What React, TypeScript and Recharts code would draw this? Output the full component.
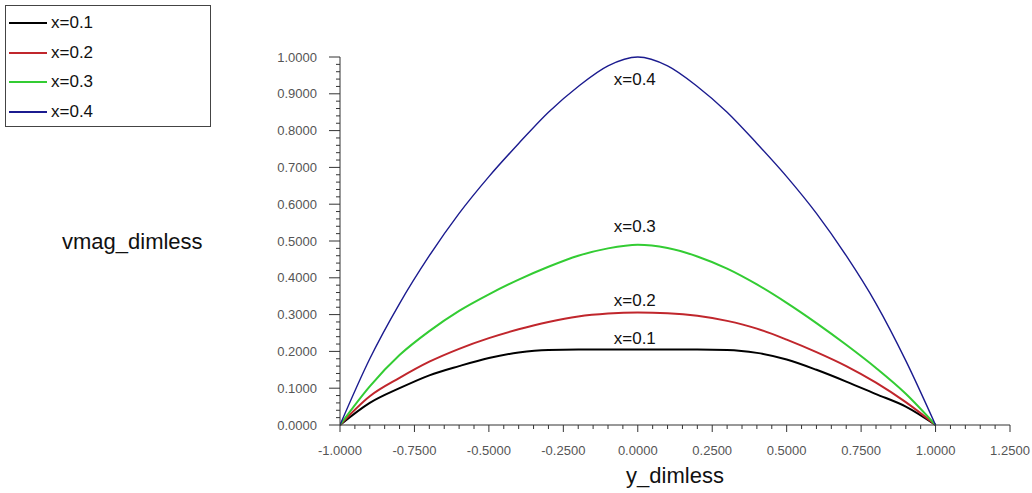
import { LineChart, Line, XAxis, YAxis, ReferenceDot } from 'recharts';

// y_dimless positions across the channel
const yDimless = [
  -1, -0.9, -0.8, -0.7, -0.6, -0.5, -0.4, -0.3, -0.2, -0.1, 0,
  0.1, 0.2, 0.3, 0.4, 0.5, 0.6, 0.7, 0.8, 0.9, 1,
];

// vmag_dimless at each x station
const vmagX01 = [
  0, 0.06, 0.1, 0.135, 0.16, 0.182, 0.197, 0.204, 0.205, 0.205, 0.205,
  0.205, 0.205, 0.204, 0.196, 0.178, 0.15, 0.118, 0.084, 0.05, 0,
];
const vmagX02 = [
  0, 0.078, 0.128, 0.172, 0.207, 0.236, 0.26, 0.28, 0.295, 0.303, 0.306,
  0.304, 0.297, 0.283, 0.262, 0.232, 0.198, 0.16, 0.115, 0.062, 0,
];
const vmagX03 = [
  0, 0.105, 0.19, 0.255, 0.31, 0.355, 0.395, 0.43, 0.46, 0.48, 0.49,
  0.481, 0.458, 0.425, 0.382, 0.332, 0.277, 0.218, 0.155, 0.085, 0,
];
const vmagX04 = [
  0, 0.18, 0.33, 0.46, 0.575, 0.675, 0.765, 0.85, 0.92, 0.976, 1.0,
  0.976, 0.92, 0.85, 0.765, 0.675, 0.575, 0.46, 0.33, 0.175, 0,
];

const seriesNames = ['x=0.1', 'x=0.2', 'x=0.3', 'x=0.4'];
const seriesKeys = ['x01', 'x02', 'x03', 'x04'];

// where the in-plot curve labels sit (data units)
const curveLabelY = [0.236, 0.34, 0.541, 0.939];

const xMajorTicks = [-1, -0.75, -0.5, -0.25, 0, 0.25, 0.5, 0.75, 1, 1.25];
const xTicks = Array.from({ length: 46 }, (_, i) => Number((-1 + i * 0.05).toFixed(2)));
const yTicks = Array.from({ length: 51 }, (_, i) => Number((i * 0.02).toFixed(2)));

const colors = ['#000000', '#c0262c', '#33cc33', '#1b1b8f'];
const widths = [2, 2, 2, 1.4];

const data = yDimless.map((y, i) => ({
  y,
  x01: vmagX01[i],
  x02: vmagX02[i],
  x03: vmagX03[i],
  x04: vmagX04[i],
}));

const FONT = '"Liberation Sans", Arial, sans-serif';
const AXIS = '#333';
const TICK_TEXT = '#555';

const isMajorX = (v: number) => xMajorTicks.some((m) => Math.abs(m - v) < 1e-6);
const isMajorY = (v: number) => Math.abs(v * 10 - Math.round(v * 10)) < 1e-6;

function XTick({ x, y, payload }: any) {
  const v = payload.value as number;
  const major = isMajorX(v);
  return (
    <g>
      <line x1={x} x2={x} y1={y} y2={y + (major ? 7 : 4)} stroke={AXIS} />
      {major && (
        <text x={x} y={y + 30} textAnchor="middle" fontSize={13} fill={TICK_TEXT} fontFamily={FONT}>
          {v.toFixed(4)}
        </text>
      )}
    </g>
  );
}

function YTick({ x, y, payload }: any) {
  const v = payload.value as number;
  const major = isMajorY(v);
  return (
    <g>
      <line x1={x} x2={x - (major ? 11 : 4)} y1={y} y2={y} stroke={AXIS} />
      {major && (
        <text x={x - 23} y={y + 4.6} textAnchor="end" fontSize={13} fill={TICK_TEXT} fontFamily={FONT}>
          {v.toFixed(4)}
        </text>
      )}
    </g>
  );
}

function LegendBox() {
  return (
    <div
      style={{
        position: 'absolute',
        left: 5,
        top: 5,
        width: 204,
        height: 120,
        border: '1px solid #444',
        background: '#fff',
        fontFamily: FONT,
        fontSize: 17,
      }}
    >
      {seriesNames.map((name, i) => (
        <div
          key={name}
          style={{ position: 'absolute', left: 3, top: 7 + i * 29.7, height: 20, display: 'flex', alignItems: 'center' }}
        >
          <span style={{ display: 'inline-block', width: 38, height: 2, background: colors[i] }} />
          <span style={{ marginLeft: 4, color: '#111' }}>{name}</span>
        </div>
      ))}
    </div>
  );
}

export default function App() {
  return (
    <div style={{ position: 'absolute', left: 0, top: 0, width: 1032, height: 493, background: '#fff' }}>
      <LineChart width={1032} height={493} data={data} margin={{ top: 57, right: 22, bottom: 0, left: 0 }}>
        <XAxis
          dataKey="y"
          type="number"
          domain={[-1, 1.25]}
          ticks={xTicks}
          interval={0}
          tick={<XTick />}
          tickLine={false}
          tickSize={0}
          tickMargin={0}
          height={68}
          axisLine={{ stroke: AXIS }}
          allowDataOverflow
          label={{ value: 'y_dimless', position: 'insideBottom', offset: 10, fontSize: 22, fill: '#111', fontFamily: FONT }}
        />
        <YAxis
          type="number"
          domain={[0, 1]}
          ticks={yTicks}
          interval={0}
          tick={<YTick />}
          tickLine={false}
          tickSize={0}
          tickMargin={0}
          width={340}
          axisLine={{ stroke: AXIS }}
          label={{ value: 'vmag_dimless', position: 'insideLeft', offset: 62, fontSize: 22, fill: '#111', fontFamily: FONT }}
        />
        {seriesKeys.map((k, i) => (
          <Line
            key={k}
            dataKey={k}
            name={seriesNames[i]}
            type="monotone"
            stroke={colors[i]}
            strokeWidth={widths[i]}
            dot={false}
            isAnimationActive={false}
          />
        ))}
        {seriesNames.map((name, i) => (
          <ReferenceDot
            key={name}
            x={-0.01}
            y={curveLabelY[i]}
            r={1}
            fill="none"
            stroke="none"
            label={{ value: name, position: 'center', fontSize: 17, fill: '#111', fontFamily: FONT }}
          />
        ))}
      </LineChart>
      <LegendBox />
    </div>
  );
}
